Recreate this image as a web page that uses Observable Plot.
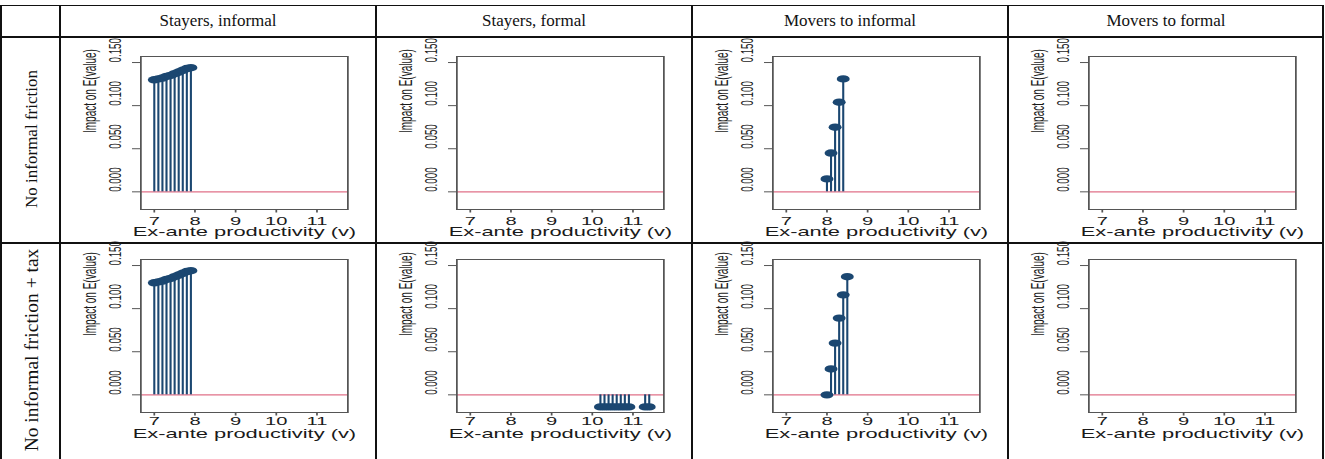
<!DOCTYPE html>
<html><head><meta charset="utf-8">
<script src="https://cdn.jsdelivr.net/npm/d3@7"></script>
<script src="https://cdn.jsdelivr.net/npm/@observablehq/plot@0.6"></script>
<style>
body{margin:0;background:#fff;}
#wrap{position:relative;width:1325px;height:459px;overflow:hidden;background:#fff;}
.ln{position:absolute;background:#111;}
.hdr{position:absolute;font-family:"Liberation Serif","Times New Roman",serif;font-size:17px;color:#111;text-align:center;line-height:32px;}
.rowlab{position:absolute;font-family:"Liberation Serif","Times New Roman",serif;color:#111;white-space:nowrap;transform:translate(-50%,-50%) rotate(-90deg);}
.panel{position:absolute;}
</style></head><body><div id="wrap"></div>
<script>
// ---- text ----
const columnTitles = ["Stayers, informal", "Stayers, formal", "Movers to informal", "Movers to formal"];
const rowTitles = ["No informal friction", "No informal friction + tax"];
const xTicks = [7, 8, 9, 10, 11];
const yTicks = [0, 0.05, 0.10, 0.15];
const xTitle = "Ex-ante productivity (v)";
const yTitle = "Impact on E(value)";

// ---- data (productivity v, impact on E(value)) ----
const stayInfV = [7.0, 7.1, 7.2, 7.3, 7.4, 7.5, 7.6, 7.7, 7.8, 7.9];
const stayInfImpact1 = [0.130, 0.131, 0.132, 0.134, 0.135, 0.137, 0.139, 0.141, 0.143, 0.144];
const stayInfImpact2 = [0.130, 0.131, 0.132, 0.134, 0.135, 0.137, 0.139, 0.141, 0.143, 0.144];

const stayFormV1 = [];
const stayFormImpact1 = [];
const stayFormV2 = [10.2, 10.3, 10.4, 10.5, 10.6, 10.7, 10.8, 10.9, 11.3, 11.4];
const stayFormImpact2 = [-0.014, -0.014, -0.014, -0.014, -0.014, -0.014, -0.014, -0.014, -0.014, -0.014];

const moveInfV1 = [8.0, 8.1, 8.2, 8.3, 8.4];
const moveInfImpact1 = [0.015, 0.045, 0.075, 0.104, 0.131];
const moveInfV2 = [8.0, 8.1, 8.2, 8.3, 8.4, 8.5];
const moveInfImpact2 = [0.000, 0.030, 0.060, 0.089, 0.116, 0.137];

const moveFormV = [];
const moveFormImpact = [];

const zip = (v, y) => v.map((d, i) => ({v: d, impact: y[i]}));
const panels = [
  [zip(stayInfV, stayInfImpact1), zip(stayFormV1, stayFormImpact1), zip(moveInfV1, moveInfImpact1), zip(moveFormV, moveFormImpact)],
  [zip(stayInfV, stayInfImpact2), zip(stayFormV2, stayFormImpact2), zip(moveInfV2, moveInfImpact2), zip(moveFormV, moveFormImpact)]
];

// ---- layout ----
const wrap = document.getElementById("wrap");
const S = 1.75;          // horizontal stretch of the panel images
const CW = 316;          // column width
const colX = [60, 376, 692, 1008];
const svgTop = [45.7, 249];
const tickDy = [11.5, 8.8];
const titleDy = [22.5, 21];
const NAVY = "#1b4771";

function line(x, y, w, h) {
  const d = document.createElement("div");
  d.className = "ln";
  Object.assign(d.style, {left: x + "px", top: y + "px", width: w + "px", height: h + "px"});
  wrap.appendChild(d);
}
// table rules
line(1, 4.5, 1323, 1.5);
line(1, 36, 1323, 2);
line(1, 242, 1323, 2);
[0, 59, 375, 691, 1007, 1322].forEach(x => line(x, 4.5, 2, 460));

columnTitles.forEach((t, c) => {
  const d = document.createElement("div");
  d.className = "hdr";
  d.textContent = t;
  Object.assign(d.style, {left: colX[c] + "px", top: "5px", width: CW + "px"});
  wrap.appendChild(d);
});
const rowCenters = [139, 350];
const rowFont = [17, 19.5];
rowTitles.forEach((t, r) => {
  const d = document.createElement("div");
  d.className = "rowlab";
  d.textContent = t;
  Object.assign(d.style, {left: "32px", top: rowCenters[r] + "px", fontSize: rowFont[r] + "px"});
  wrap.appendChild(d);
});

function panel(data, r) {
  const H = 200;
  const svg = Plot.plot({
    width: CW / S, height: H,
    marginLeft: 80 / S, marginRight: 29 / S, marginTop: 10, marginBottom: 37,
    x: {domain: [6.67, 11.76]},
    y: {domain: [-0.0205, 0.157]},
    style: {fontFamily: "'Liberation Sans', Arial, sans-serif", color: "#222", background: "transparent", overflow: "visible"},
    marks: [
      Plot.ruleY([0], {stroke: "#e07088", strokeWidth: 1.4}),
      Plot.ruleX(data, {x: "v", y1: 0, y2: "impact", stroke: NAVY, strokeWidth: 1.2}),
      Plot.dot(data, {x: "v", y: "impact", r: 3.7, fill: NAVY, stroke: "none"}),
      Plot.frame({stroke: "#555", strokeWidth: 1}),
      Plot.axisY({ticks: yTicks, tickSize: 8 / S, fill: "none", stroke: "#555", label: null}),
      Plot.axisX({ticks: xTicks, tickSize: 3.5, fill: "none", stroke: "#555", label: null}),
      Plot.text(yTicks, {y: d => d, text: d3.format(".3f"), frameAnchor: "left", dx: -14.5, rotate: -90, fontSize: 9.8, fill: "#1a1a1a"}),
      Plot.text([yTitle], {frameAnchor: "left", dx: -28.6, rotate: -90, fontSize: 10, fill: "#1a1a1a"}),
      Plot.text(xTicks, {x: d => d, text: d => String(d), frameAnchor: "bottom", dy: tickDy[r], fontSize: 11.5, lineAnchor: "middle", fill: "#1a1a1a"}),
      Plot.text([xTitle], {frameAnchor: "bottom", dy: titleDy[r], fontSize: 12.5, lineAnchor: "middle", fill: "#1a1a1a"})
    ]
  });
  svg.setAttribute("width", CW);
  svg.setAttribute("height", H);
  svg.setAttribute("preserveAspectRatio", "none");
  svg.style.width = CW + "px";
  svg.style.height = H + "px";
  svg.style.maxWidth = "none";
  return svg;
}

panels.forEach((row, r) => row.forEach((data, c) => {
  const holder = document.createElement("div");
  holder.className = "panel";
  Object.assign(holder.style, {left: colX[c] + "px", top: svgTop[r] + "px"});
  holder.appendChild(panel(data, r));
  wrap.appendChild(holder);
}));
</script>
</body></html>
